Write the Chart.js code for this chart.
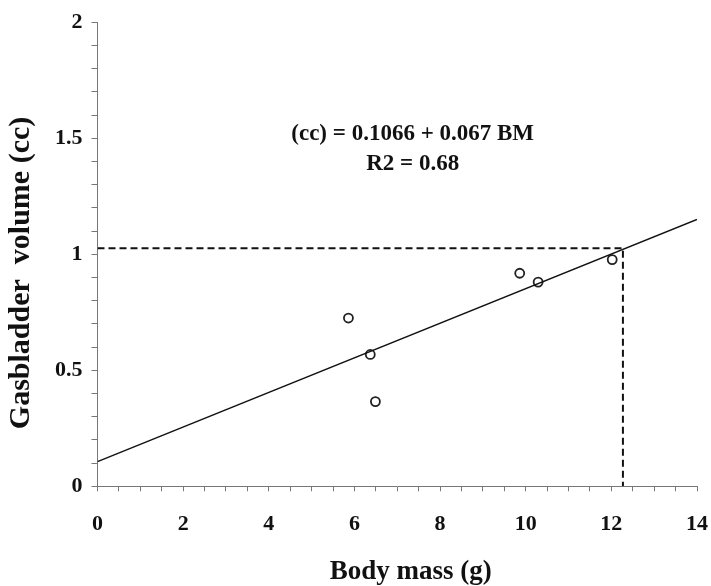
<!DOCTYPE html>
<html lang="en">
<head>
  <meta charset="UTF-8">
  <title>Gasbladder volume vs body mass</title>
  <script src="https://cdn.jsdelivr.net/npm/chart.js"></script>
  <style>
    html, body {
      margin: 0;
      padding: 0;
      background: #fff;
      overflow: hidden;
    }
    #wrap {
      width: 711px;
      height: 586px;
    }
  </style>
</head>
<body>

<div id="wrap"><canvas id="chart"></canvas></div>

<script>
  // observed fish: body mass (g) and gasbladder volume (cc)
  const bodyMass = [5.86, 6.37, 6.49, 9.86, 10.29, 12.02];
  const gasVolume = [0.725, 0.568, 0.365, 0.918, 0.88, 0.977];

  // regression line as drawn (end points)
  const fitX = [0, 14];
  const fitY = [0.106, 1.15];

  // dashed reading guide
  const guideX = [0, 12.27, 12.27];
  const guideY = [1.026, 1.026, 0];

  const xTickLabels = [0, 2, 4, 6, 8, 10, 12, 14];
  const yTickLabels = [0, 0.5, 1, 1.5, 2];

  const equationLines = ['(cc) = 0.1066 + 0.067 BM', 'R2 = 0.68'];
  const equationPos = { x: 7.36, y: [1.52, 1.39] };

  const serif = '"Liberation Serif", "DejaVu Serif", serif';

  const equationText = {
    id: 'equationText',
    afterDatasetsDraw(chart) {
      const { ctx, scales } = chart;
      ctx.save();
      ctx.fillStyle = '#111';
      ctx.font = 'bold 23px ' + serif;
      ctx.textAlign = 'center';
      ctx.textBaseline = 'middle';
      equationLines.forEach((t, i) => {
        ctx.fillText(t, scales.x.getPixelForValue(equationPos.x), scales.y.getPixelForValue(equationPos.y[i]));
      });
      ctx.restore();
    }
  };

  const toPts = (xs, ys) => xs.map((x, i) => ({ x: x, y: ys[i] }));

  new Chart(document.getElementById('chart'), {
    type: 'scatter',
    data: {
      datasets: [
        {
          label: 'guide',
          type: 'line',
          data: toPts(guideX, guideY),
          borderColor: '#111',
          borderWidth: 2,
          borderDash: [7, 4],
          pointRadius: 0,
          fill: false
        },
        {
          label: 'fit',
          type: 'line',
          data: toPts(fitX, fitY),
          borderColor: '#111',
          borderWidth: 1.5,
          pointRadius: 0,
          fill: false
        },
        {
          label: 'fish',
          data: toPts(bodyMass, gasVolume),
          pointStyle: 'circle',
          pointRadius: 4.5,
          pointBorderWidth: 1.8,
          pointBorderColor: '#222',
          pointBackgroundColor: '#fff'
        }
      ]
    },
    options: {
      responsive: true,
      maintainAspectRatio: false,
      animation: false,
      layout: { padding: { top: 4, right: 0, left: 5, bottom: 0 } },
      plugins: {
        legend: { display: false },
        tooltip: { enabled: false }
      },
      scales: {
        x: {
          type: 'linear',
          min: 0,
          max: 14,
          afterFit: s => { s.paddingRight = 14; },
          ticks: {
            stepSize: 0.5,
            autoSkip: false,
            maxRotation: 0,
            color: '#111',
            padding: 20,
            font: { family: serif, size: 22, weight: 'bold' },
            callback: v => xTickLabels.includes(v) ? String(v) : ''
          },
          grid: { drawOnChartArea: false, tickLength: 5, color: '#777' },
          border: { color: '#777', width: 1 },
          title: {
            display: true,
            text: '    Body mass (g)',
            color: '#111',
            font: { family: serif, size: 27, weight: 'bold', lineHeight: 1.05 },
            padding: { top: 0, bottom: 0 }
          }
        },
        y: {
          type: 'linear',
          min: 0,
          max: 2,
          ticks: {
            stepSize: 0.1,
            autoSkip: false,
            color: '#111',
            padding: 9,
            font: { family: serif, size: 22, weight: 'bold' },
            callback: v => {
              const r = Math.round(v * 10) / 10;
              return yTickLabels.includes(r) ? String(r) : '';
            }
          },
          grid: { drawOnChartArea: false, tickLength: 6, color: '#777' },
          border: { color: '#777', width: 1 },
          title: {
            display: true,
            text: 'Gasbladder  volume (cc)     ',
            color: '#111',
            font: { family: serif, size: 30, weight: 'bold', lineHeight: 1.1 },
            padding: { top: 0, bottom: 8 }
          }
        }
      }
    },
    plugins: [equationText]
  });
</script>

</body>
</html>
